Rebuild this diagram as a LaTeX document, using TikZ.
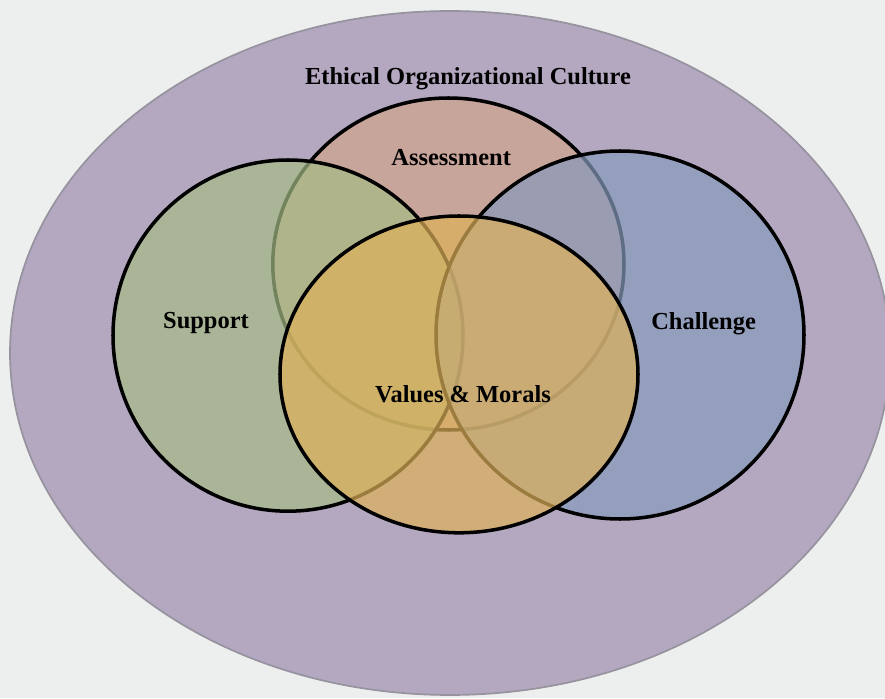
\documentclass[tikz,border=0pt]{standalone}
\usepackage{fontspec}
\setmainfont{Liberation Serif}
\usetikzlibrary{%
    backgrounds, %
    positioning%
}

\definecolor{paper}{RGB}{237,239,238}
\definecolor{culture}{RGB}{179,168,192}
\definecolor{cultureline}{RGB}{150,146,158}
\definecolor{support}{RGB}{165,187,133}
\definecolor{assess}{RGB}{208,164,139}
\definecolor{challenge}{RGB}{135,154,189}
\definecolor{values}{RGB}{222,177,89}

\tikzset{
	venn/.style={draw=black, line width=2.5pt, fill opacity=0.7},
	vennlabel/.style={font=\fontsize{17.4}{20}\selectfont\bfseries, anchor=base, inner sep=0pt},
}

\begin{document}
\begin{tikzpicture}

				\fill[paper] (0,0) rectangle (22.125,17.45);
				\useasboundingbox (0,0) rectangle (22.125,17.45);

				% outer culture
				\draw[cultureline, line width=1.2pt, fill=culture] (11.25,8.625) ellipse (11 and 8.55);

				% the four sets, back to front
				\draw[venn, fill=assess] (11.21,10.85) ellipse (4.39 and 4.15);
				\draw[venn, fill=support] (7.2,9.06) ellipse (4.375 and 4.39);
				\draw[venn, fill=challenge] (15.5,9.075) ellipse (4.6 and 4.6);
				\draw[venn, fill=values] (11.475,8.09) ellipse (4.475 and 3.96);

				\node[vennlabel] (culturetxt) at (11.7,15.325) {Ethical Organizational Culture};
				\node[vennlabel] (assesstxt) at (11.28,13.3) {Assessment};
				\node[vennlabel] (supporttxt) at (5.15,9.225) {Support};
				\node[vennlabel] (challengetxt) at (17.59,9.2) {Challenge};
				\node[vennlabel] (valuestxt) at (11.575,7.4) {Values \& Morals};
			\end{tikzpicture}
\end{document}
